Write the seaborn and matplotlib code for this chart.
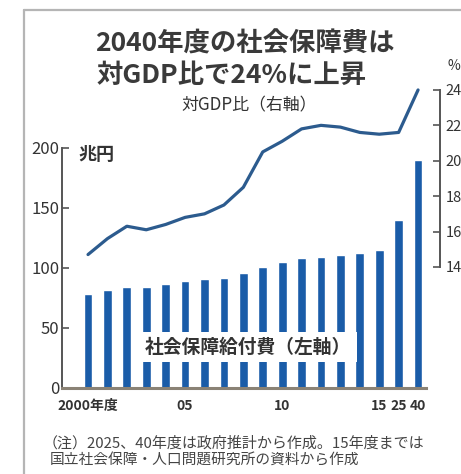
import matplotlib
matplotlib.use("Agg")
import matplotlib.pyplot as plt
from matplotlib.lines import Line2D
import seaborn as sns
import pandas as pd

# fiscal years (2025 and 2040 are government projections)
years = ["2000", "2001", "2002", "2003", "2004", "2005", "2006", "2007", "2008",
         "2009", "2010", "2011", "2012", "2013", "2014", "2015", "2025", "2040"]
# social security benefits, trillion yen (left axis)
benefits = [78.4, 81.7, 83.8, 84.3, 86.4, 88.9, 90.7, 92.0, 95.7,
            100.5, 105.4, 108.1, 109.5, 110.8, 112.4, 114.9, 140.2, 190.0]
# ratio to GDP, % (right axis)
gdp_ratio = [14.7, 15.6, 16.3, 16.1, 16.4, 16.8, 17.0, 17.5, 18.5,
             20.5, 21.1, 21.8, 22.0, 21.9, 21.6, 21.5, 21.6, 24.0]
xtick_labels = ["2000年度", "", "", "", "", "05", "", "", "", "",
                "10", "", "", "", "", "15", "25", "40"]
left_ticks = [0, 50, 100, 150, 200]
right_ticks = [14, 16, 18, 20, 22, 24]

df = pd.DataFrame({"year": years, "benefits": benefits, "ratio": gdp_ratio})
df["pos"] = range(len(df))

sns.set_theme(style="white")
plt.rcParams["font.family"] = ["Noto Sans CJK JP", "DejaVu Sans"]

W, H = 461, 474
fig = plt.figure(figsize=(W / 100, H / 100), dpi=100)
fig.patch.set_facecolor("white")

# frame around the graphic
fig.add_artist(Line2D([24 / W, 24 / W], [0, 1 - 10 / H], transform=fig.transFigure,
                      color="#b5b5b5", lw=1.6))
fig.add_artist(Line2D([24 / W, 1], [1 - 10 / H, 1 - 10 / H], transform=fig.transFigure,
                      color="#b5b5b5", lw=1.6))

ax = fig.add_axes([62 / W, 1 - 388 / H, (440 - 62) / W, (388 - 85) / H])
sns.barplot(data=df, x="year", y="benefits", color="#1a5ca8", saturation=1,
            width=0.45, ax=ax)
ax.set_xlim(-1.34, 18.13)
ax.set_ylim(0, 252.5)
ax.set_facecolor("none")

ax2 = ax.twinx()
sns.lineplot(data=df, x="pos", y="ratio", color="#2c5b8e", lw=2.3, ax=ax2)
ax2.set_ylim(7.16, 24.28)
ax2.set_xlim(-1.34, 18.13)

for a in (ax, ax2):
    a.set_xlabel("")
    a.set_ylabel("")
    for s in a.spines.values():
        s.set_visible(False)

ax.spines["left"].set_visible(True)
ax.spines["left"].set_bounds(0, 200)
ax.spines["left"].set_color("#555555")
ax.spines["left"].set_linewidth(1.4)
ax.spines["bottom"].set_visible(True)
ax.spines["bottom"].set_bounds(-1.34, 17.4)
ax.spines["bottom"].set_color("#8a8275")
ax.spines["bottom"].set_linewidth(2.2)

ax.set_yticks(left_ticks)
ax.tick_params(axis="y", direction="in", length=5, width=1.2, color="#555555",
               pad=2, labelsize=12, labelcolor="#333333")
ax.set_xticks(range(len(years)))
ax.set_xticklabels(xtick_labels, fontsize=10, fontweight="bold", color="#333333")
ax.tick_params(axis="x", length=0, pad=8)

ax2.spines["right"].set_visible(True)
ax2.spines["right"].set_bounds(14, 24)
ax2.spines["right"].set_color("#555555")
ax2.spines["right"].set_linewidth(1.4)
ax2.set_yticks(right_ticks)
ax2.tick_params(axis="y", direction="in", length=5, width=1.2, color="#555555",
                pad=4, labelsize=10.5, labelcolor="#333333")

# texts
fig.text(245 / W, 1 - 44 / H, "2040年度の社会保障費は", ha="center", va="center",
         fontsize=19, fontweight="bold", color="#3a3a3a")
fig.text(232 / W, 1 - 75 / H, "対GDP比で24%に上昇", ha="center", va="center",
         fontsize=19, fontweight="bold", color="#3a3a3a")
fig.text(249 / W, 1 - 105 / H, "対GDP比（右軸）", ha="center", va="center",
         fontsize=12.2, color="#333333")
fig.text(78 / W, 1 - 155 / H, "兆円", ha="left", va="center",
         fontsize=13, fontweight="bold", color="#333333")
fig.text(447 / W, 1 - 66 / H, "%", ha="left", va="center", fontsize=10, color="#333333")
fig.text(248 / W, 1 - 347 / H, "社会保障給付費（左軸）", ha="center", va="center",
         fontsize=13.5, fontweight="bold", color="#333333",
         bbox=dict(facecolor="white", edgecolor="none", pad=4))
fig.text(43 / W, 1 - 443 / H, "（注）2025、40年度は政府推計から作成。15年度までは",
         ha="left", va="center", fontsize=10.8, color="#444444")
fig.text(50 / W, 1 - 461 / H, "国立社会保障・人口問題研究所の資料から作成",
         ha="left", va="center", fontsize=10.6, color="#444444")

fig.savefig("out.png", dpi=100, facecolor="white")
